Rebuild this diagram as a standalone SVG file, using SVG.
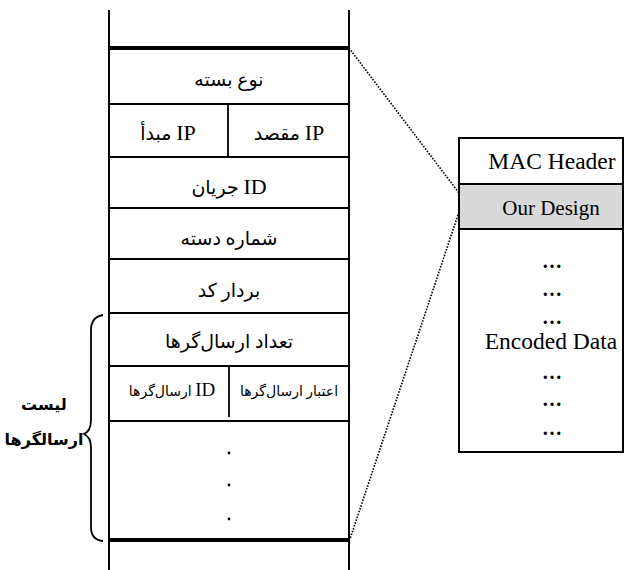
<svg xmlns="http://www.w3.org/2000/svg" width="640" height="570" viewBox="0 0 640 570">
<style>
.ln{stroke:#000;stroke-width:1.8;fill:none}
.vl{stroke:#000;stroke-width:2;fill:none}
.thick{stroke:#000;stroke-width:4}
.dot{stroke:#000;stroke-width:1.6;stroke-dasharray:1.6 1.4;fill:none}
.fa{font-family:"Liberation Serif","DejaVu Sans",serif;font-size:19px;fill:#000;text-anchor:middle;direction:rtl;unicode-bidi:embed}
.fs{font-size:14px}
.la{font-family:"Liberation Serif","Times New Roman",serif;font-size:22px}
.las{font-family:"Liberation Serif","Times New Roman",serif;font-size:19px}
.en{font-family:"Liberation Serif","Times New Roman",serif;fill:#000;text-anchor:middle}
.el{font-family:"Liberation Serif","Times New Roman",serif;fill:#000;text-anchor:middle;font-weight:bold;font-size:20px}
.b{font-weight:bold;font-size:16px}
</style>
<g id="connectors">
<line class="dot" x1="349" y1="48" x2="459" y2="193"/>
<line class="dot" x1="459" y1="212" x2="350" y2="539"/>
</g>
<g id="packet">
<line class="vl" x1="109" y1="10" x2="109" y2="570"/>
<line class="vl" x1="349" y1="10" x2="349" y2="570"/>
<line class="thick" x1="108" y1="48" x2="350" y2="48"/>
<line class="ln" x1="109" y1="104" x2="349" y2="104"/>
<line class="ln" x1="228" y1="104" x2="228" y2="157"/>
<line class="ln" x1="109" y1="157" x2="349" y2="157"/>
<line class="ln" x1="109" y1="208" x2="349" y2="208"/>
<line class="ln" x1="109" y1="259" x2="349" y2="259"/>
<line class="ln" x1="109" y1="313" x2="349" y2="313"/>
<line class="ln" x1="109" y1="366" x2="349" y2="366"/>
<line class="ln" x1="229" y1="366" x2="229" y2="417"/>
<line class="ln" x1="109" y1="421" x2="349" y2="421"/>
<line class="thick" x1="108" y1="540" x2="350" y2="540"/>
</g>
<g id="f-type"><text class="fa" x="229" y="86">نوع بسته</text></g>
<g id="f-src"><text class="fa" x="168" y="140"><tspan class="la">IP</tspan> مبدأ</text></g>
<g id="f-dst"><text class="fa" x="289" y="140"><tspan class="la">IP</tspan> مقصد</text></g>
<g id="f-flow"><text class="fa" x="229" y="194"><tspan class="la">ID</tspan> جریان</text></g>
<g id="f-batch"><text class="fa" x="229" y="245">شماره دسته</text></g>
<g id="f-code"><text class="fa" x="229" y="297">بردار کد</text></g>
<g id="f-count"><text class="fa" x="229" y="348">تعداد ارسال‌گرها</text></g>
<g id="f-sid"><text class="fa fs" x="172" y="396"><tspan class="las">ID</tspan> ارسال‌گرها</text></g>
<g id="f-cred"><text class="fa fs" x="289" y="396">اعتبار ارسال‌گرها</text></g>
<g id="f-dots">
<circle cx="229" cy="453" r="1.4"/>
<circle cx="229" cy="485" r="1.4"/>
<circle cx="229" cy="519" r="1.4"/>
</g>
<g id="brace">
<path class="ln" d="M103,315 Q91,317 91,330 L91,420 Q91,431 84,434 Q91,437 91,448 L91,527 Q91,540 103,541"/>
<text class="fa b" x="44" y="410">لیست</text>
<text class="fa b" x="44" y="445">ارسالگرها</text>
</g>
<g id="frame">
<rect x="459" y="184" width="164" height="45" fill="#d9d9d9"/>
<rect x="459" y="138" width="164" height="314" class="vl"/>
<line class="vl" x1="459" y1="184" x2="623" y2="184"/>
<line class="vl" x1="459" y1="229" x2="623" y2="229"/>
<text class="en" x="552" y="169" style="font-size:23.5px">MAC Header</text>
<text class="en" x="551" y="215" style="font-size:21px">Our Design</text>
<text class="el" x="552" y="268">…</text>
<text class="el" x="552" y="296">…</text>
<text class="el" x="552" y="324">…</text>
<text class="en" x="551" y="349" style="font-size:23.5px">Encoded Data</text>
<text class="el" x="552" y="379">…</text>
<text class="el" x="552" y="406">…</text>
<text class="el" x="552" y="435">…</text>
</g>
</svg>
